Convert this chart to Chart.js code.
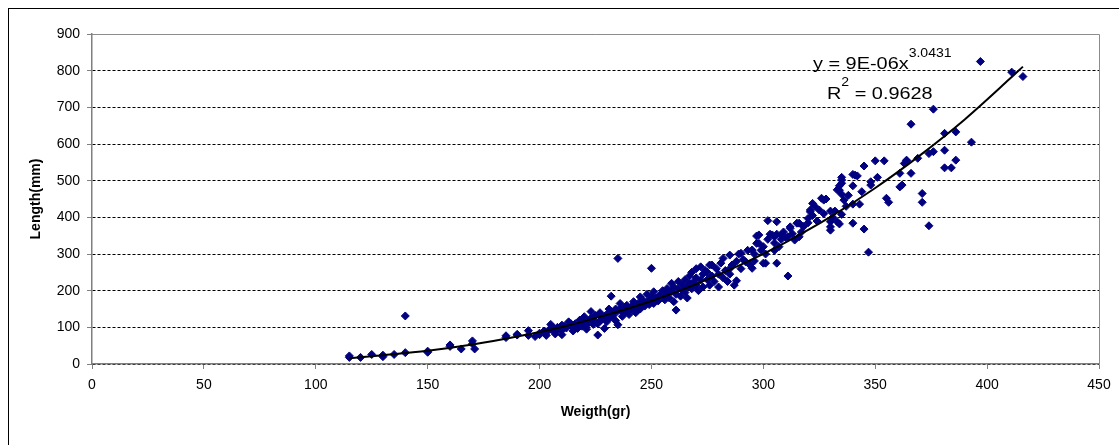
<!DOCTYPE html>
<html>
<head>
<meta charset="utf-8">
<script src="https://cdn.jsdelivr.net/npm/chart.js@4.4.1/dist/chart.umd.min.js"></script>
<style>
    html, body { margin: 0; padding: 0; background: #fff; overflow: hidden; }
    #frame { position: absolute; left: 8px; top: 8px; width: 1200px; height: 500px; border: 1px solid #000; }
    #wrap { position: absolute; left: 0; top: 0; width: 1119px; height: 445px; }
</style>
</head>
<body>
<div id="frame"></div>
<div id="wrap"><canvas id="lengthWeightChart"></canvas></div>
<script>
// length-weight scatter, values

var weightGr = [
    115, 115, 120, 125, 130, 130, 135, 140, 140, 150,
    150, 160, 160, 165, 170, 171, 170, 185, 185, 190,
    190, 195, 195, 198, 200, 200, 202, 203, 205, 205,
    207, 207, 208, 210, 210, 210, 212, 213, 214, 215,
    216, 217, 218, 219, 220, 220, 221, 222, 223, 223,
    224, 225, 226, 226, 227, 228, 229, 229, 230, 230,
    231, 232, 232, 233, 234, 235, 235, 235, 236, 236,
    237, 238, 238, 239, 240, 240, 241, 242, 242, 243,
    244, 245, 245, 245, 246, 247, 248, 248, 249, 250,
    250, 250, 251, 251, 252, 253, 254, 255, 255, 256,
    257, 257, 258, 259, 259, 260, 260, 261, 261, 262,
    262, 263, 264, 264, 265, 265, 266, 266, 267, 267,
    268, 268, 269, 270, 270, 270, 271, 272, 272, 273,
    273, 274, 275, 275, 276, 276, 277, 277, 278, 279,
    280, 280, 281, 282, 282, 283, 284, 285, 285, 285,
    286, 287, 288, 288, 289, 290, 290, 291, 292, 293,
    294, 295, 295, 296, 296, 297, 297, 298, 298, 299,
    300, 300, 301, 301, 302, 302, 303, 304, 305, 305,
    305, 306, 306, 306, 307, 308, 308, 309, 310, 311,
    311, 312, 312, 313, 314, 315, 316, 316, 317, 318,
    320, 320, 321, 321, 322, 322, 323, 324, 325, 326,
    327, 327, 328, 330, 330, 330, 330, 331, 332, 333,
    333, 334, 334, 334, 335, 335, 335, 335, 335, 336,
    337, 338, 340, 340, 340, 340, 341, 342, 343, 344,
    345, 345, 347, 348, 348, 350, 351, 354, 355, 356,
    361, 361, 362, 364, 364, 363, 366, 366, 369, 371,
    371, 374, 374, 376, 376, 381, 381, 381, 384, 386,
    386, 393, 397, 411, 416,
    // extra points in the dense 200-240 band
    204, 206, 209, 211, 214, 217, 219, 221, 224, 227,
    228, 231, 233, 234, 237, 239, 241, 243, 244, 247
];

var lengthMm = [
    18, 22, 18, 26, 20, 24, 26, 31, 131, 35,
    32, 48, 52, 41, 63, 41, 55, 77, 72, 79,
    81, 91, 78, 75, 80, 84, 90, 78, 108, 95,
    88, 82, 100, 106, 80, 92, 98, 115, 104, 90,
    110, 97, 120, 103, 129, 112, 95, 118, 143, 125,
    108, 132, 79, 110, 140, 122, 97, 130, 135, 115,
    150, 128, 185, 140, 118, 288, 107, 145, 165, 150,
    130, 155, 140, 160, 148, 135, 156, 170, 150, 140,
    165, 162, 183, 150, 175, 158, 170, 190, 162, 261,
    178, 185, 197, 165, 180, 172, 190, 200, 185, 175,
    206, 192, 180, 220, 198, 170, 210, 147, 190, 205,
    225, 185, 215, 200, 230, 195, 210, 180, 240, 220,
    205, 250, 225, 215, 260, 235, 200, 265, 229, 245,
    210, 255, 250, 230, 270, 215, 270, 240, 225, 260,
    245, 210, 275, 235, 288, 255, 225, 297, 260, 245,
    270, 215, 227, 280, 300, 302, 260, 285, 279, 310,
    270, 311, 261, 281, 300, 349, 329, 352, 329, 310,
    275, 320, 275, 300, 391, 340, 354, 352, 310, 347,
    330, 388, 275, 354, 320, 352, 340, 360, 345, 240,
    347, 374, 370, 355, 338, 384, 347, 384, 360, 375,
    397, 385, 420, 415, 438, 405, 430, 390, 420, 452,
    447, 410, 450, 417, 365, 374, 388, 400, 417, 475,
    388, 382, 474, 486, 502, 509, 493, 463, 408, 447,
    430, 460, 436, 486, 517, 384, 515, 513, 436, 470,
    368, 540, 305, 497, 488, 554, 509, 554, 452, 441,
    520, 483, 488, 554, 556, 547, 520, 654, 561, 465,
    441, 377, 574, 579, 695, 629, 583, 535, 535, 633,
    556, 605, 825, 796, 784,
    92, 100, 96, 103, 110, 101, 112, 106, 120, 117,
    128, 126, 133, 150, 142, 146, 150, 158, 148, 165
];

// power trendline
var trendX = [115, 130, 150, 170, 190, 210, 230, 250, 270, 290, 310, 330, 350, 370, 390, 410, 416];
var trendY = [16, 24, 36, 53, 75, 101, 134, 172, 218, 271, 332, 401, 480, 569, 667, 777, 811];

var xTicks = [0, 50, 100, 150, 200, 250, 300, 350, 400, 450];
var yTicks = [0, 100, 200, 300, 400, 500, 600, 700, 800, 900];

var FONT = '"Liberation Sans", Arial, sans-serif';

function toPoints(xs, ys) {
    return xs.map(function(x, i) { return { x: x, y: ys[i] }; });
}

// draws text a little wider, like the original export
function wideText(c, txt, x, y, size) {
    var sx = 1.17;
    c.save();
    c.font = size + 'px ' + FONT;
    c.translate(x, y);
    c.scale(sx, 1);
    c.fillText(txt, 0, 0);
    var w = c.measureText(txt).width * sx;
    c.restore();
    return x + w;
}

// plot border + trendline equation
var extrasPlugin = {
    id: 'extras',
    beforeDatasetsDraw: function(chart) {
        var a = chart.chartArea;
        var c = chart.ctx;
        c.save();
        c.strokeStyle = '#8c8c8c';
        c.lineWidth = 1;
        c.beginPath();
        c.moveTo(a.left, a.top + 0.5);
        c.lineTo(a.right + 0.5, a.top + 0.5);
        c.lineTo(a.right + 0.5, a.bottom);
        c.stroke();
        c.restore();
    },
    afterDatasetsDraw: function(chart) {
        var c = chart.ctx;
        c.save();
        c.fillStyle = '#000';
        c.textBaseline = 'alphabetic';
        var end = wideText(c, 'y = 9E-06x', 813, 69, 17);
        wideText(c, '3.0431', end, 57, 12);
        end = wideText(c, 'R', 827, 99, 17);
        end = wideText(c, '2', end, 86, 12);
        wideText(c, ' = 0.9628', end, 99, 17);
        c.restore();
    }
};

function renderLengthWeightChart() {
    var ctx = document.getElementById('lengthWeightChart').getContext('2d');

    var lengthWeightChart = new Chart(ctx, {
        type: 'scatter',
        data: {
            datasets: [{
                label: 'Trend',
                data: toPoints(trendX, trendY),
                showLine: true,
                borderColor: '#000',
                borderWidth: 2,
                pointRadius: 0,
                cubicInterpolationMode: 'monotone',
                order: 0
            }, {
                label: 'Length',
                data: toPoints(weightGr, lengthMm),
                pointStyle: 'rectRot',
                pointRadius: 4,
                backgroundColor: '#000080',
                borderColor: '#000080',
                borderWidth: 1,
                order: 1
            }]
        },
        options: {
            responsive: true,
            maintainAspectRatio: false,
            animation: false,
            layout: {
                padding: { left: 0, top: 34, right: 20, bottom: 0 }
            },
            plugins: {
                legend: { display: false },
                tooltip: { enabled: false }
            },
            scales: {
                x: {
                    type: 'linear',
                    min: 0,
                    max: 450,
                    afterBuildTicks: function(scale) {
                        scale.ticks = xTicks.map(function(v) { return { value: v }; });
                    },
                    afterFit: function(scale) { scale.height = 81; },
                    grid: {
                        drawOnChartArea: false,
                        drawTicks: true,
                        tickLength: 5,
                        tickColor: '#7f7f7f'
                    },
                    border: { color: '#7f7f7f', width: 1.5 },
                    ticks: {
                        color: '#000',
                        padding: 8,
                        maxRotation: 0,
                        font: { family: FONT, size: 14 }
                    },
                    title: {
                        display: true,
                        text: 'Weigth(gr)',
                        color: '#000',
                        padding: { top: 0, bottom: 24 },
                        font: { family: FONT, size: 14, weight: 'bold' }
                    }
                },
                y: {
                    type: 'linear',
                    min: 0,
                    max: 900,
                    afterBuildTicks: function(scale) {
                        scale.ticks = yTicks.map(function(v) { return { value: v }; });
                    },
                    afterFit: function(scale) { scale.width = 92; },
                    grid: {
                        color: function(context) {
                            return context.tick && context.tick.value === 900 ? '#8c8c8c' : '#000';
                        },
                        lineWidth: 1,
                        drawTicks: true,
                        tickLength: 5,
                        tickColor: '#7f7f7f'
                    },
                    border: { color: '#7f7f7f', width: 1.5, dash: [3, 2] },
                    ticks: {
                        color: '#000',
                        padding: 7,
                        font: { family: FONT, size: 14 }
                    },
                    title: {
                        display: true,
                        text: 'Length(mm)',
                        color: '#000',
                        padding: { top: 28, bottom: 0 },
                        font: { family: FONT, size: 14, weight: 'bold' }
                    }
                }
            }
        },
        plugins: [extrasPlugin]
    });
}

document.addEventListener('DOMContentLoaded', renderLengthWeightChart);
</script>
</body>
</html>
